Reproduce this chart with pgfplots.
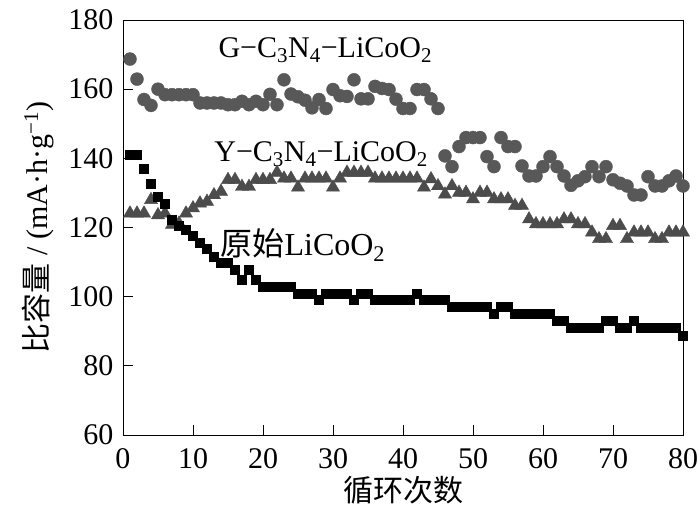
\documentclass[border=0pt]{standalone}
\usepackage{pgfplots}
\pgfplotsset{compat=1.18}
\usepackage{fontspec}
\setmainfont{Liberation Serif}
\newfontfamily\cjk{Noto Sans CJK SC}
\definecolor{gcol}{RGB}{88,88,88}
\definecolor{ycol}{RGB}{76,76,76}
\begin{document}
\begin{tikzpicture}
\begin{axis}[
  at={(0,0)}, anchor=south west,
  scale only axis, width=560pt, height=415pt,
  xmin=0, xmax=80, ymin=60, ymax=180,
  xtick={0,10,...,80}, ytick={60,80,...,180},
  tick pos=left, tick align=inside, major tick length=10pt,
  axis line style={line width=0.9pt},
  major tick style={line width=0.9pt, black},
  font=\fontsize{30}{35}\selectfont,
  tick label style={font=\fontsize{30}{35}\selectfont},
  xticklabel shift=10pt,
  yticklabel shift=6pt,
  /pgf/number format/assume math mode=true,
  xlabel={\cjk 循环次数},
  ylabel={{\cjk 比容量} / (mA·h·g\textsuperscript{−1})},
  label style={font=\fontsize{30}{35}\selectfont},
  xlabel style={yshift=-1pt},
  ylabel style={yshift=8pt},
]
\addplot[only marks, mark=*, mark size=6.5pt, gcol, mark options={fill=gcol, draw=gcol}] coordinates {
(1,168.7)(2,162.9)(3,157)(4,155.3)(5,160)(6,158.4)(7,158.4)(8,158.4)(9,158.4)(10,158.4)
(11,156)(12,156)(13,156)(14,156)(15,155.5)(16,155.5)(17,156.5)(18,155.5)(19,156.5)(20,155.5)
(21,158.5)(22,155.5)(23,162.7)(24,158.6)(25,157.8)(26,156.8)(27,154.6)(28,157)(29,154.4)(30,159.9)
(31,158.1)(32,157.9)(33,162.7)(34,157.2)(35,157.2)(36,160.8)(37,160.2)(38,159.9)(39,157.1)(40,154.4)
(41,154.4)(42,159.9)(43,159.9)(44,157.2)(45,154.4)(46,140.7)(47,137.6)(48,143.4)(49,146)(50,146)
(51,146)(52,140.5)(53,137.6)(54,146)(55,143.4)(56,143.4)(57,137.8)(58,134.9)(59,134.9)(60,137.6)
(61,140.5)(62,137.6)(63,134.9)(64,132.2)(65,133.5)(66,134.7)(67,137.6)(68,134.7)(69,137.6)(70,133.8)
(71,132.8)(72,132)(73,129.4)(74,129.4)(75,134.7)(76,132)(77,132)(78,133.5)(79,134.9)(80,132)
};
\addplot[only marks, mark=triangle*, mark size=7.6pt, ycol, mark options={fill=ycol, draw=ycol}] coordinates {
(1,124.1)(2,124.1)(3,124.1)(4,128)(5,123.6)(6,124.1)(7,120.8)(8,121.2)(9,124.1)(10,125.6)
(11,127)(12,127.5)(13,129.4)(14,130.4)(15,133.8)(16,133.8)(17,131.8)(18,131.8)(19,133.8)(20,133.8)
(21,133.8)(22,135.9)(23,134.2)(24,134.2)(25,131.6)(26,134.2)(27,134.2)(28,134.2)(29,134.2)(30,131.6)
(31,134.2)(32,135.9)(33,135.9)(34,135.9)(35,135.9)(36,134.2)(37,134.2)(38,134.2)(39,134.2)(40,134.2)
(41,134.2)(42,134.2)(43,131.6)(44,134)(45,132)(46,129.6)(47,132)(48,130.1)(49,130.1)(50,128.2)
(51,130.1)(52,130.1)(53,128.2)(54,128.2)(55,128.2)(56,126.3)(57,126.3)(58,122.4)(59,121)(60,121)
(61,121)(62,121)(63,122.4)(64,122.4)(65,121)(66,121)(67,118.6)(68,116.7)(69,116.7)(70,120.5)
(71,120.5)(72,116.7)(73,118.6)(74,118.6)(75,118.6)(76,116.7)(77,116.7)(78,118.6)(79,118.6)(80,118.6)
};
\addplot[only marks, mark=square*, mark size=4.5pt, black, mark options={fill=black, draw=black}] coordinates {
(1,141)(2,141)(3,137)(4,132.8)(5,128.9)(6,126.8)(7,122.2)(8,120.5)(9,119.5)(10,117.5)
(11,115.5)(12,113.8)(13,111.6)(14,109.7)(15,109.7)(16,107.7)(17,104.8)(18,107.7)(19,104.8)(20,103)
(21,103)(22,103)(23,103)(24,103)(25,101)(26,101)(27,101)(28,99)(29,101)(30,101)
(31,101)(32,101)(33,99)(34,101)(35,101)(36,99)(37,99)(38,99)(39,99)(40,99)
(41,99)(42,101)(43,99)(44,99)(45,99)(46,99)(47,97)(48,97)(49,97)(50,97)
(51,97)(52,97)(53,95)(54,97)(55,97)(56,95)(57,95)(58,95)(59,95)(60,95)
(61,95)(62,93)(63,93)(64,91)(65,91)(66,91)(67,91)(68,91)(69,93)(70,93)
(71,91)(72,91)(73,93)(74,91)(75,91)(76,91)(77,91)(78,91)(79,91)(80,88.7)
};
\node[font=\fontsize{30}{35}\selectfont] at (axis cs:28.9,171.3) {G−C\textsubscript{3}N\textsubscript{4}−LiCoO\textsubscript{2}};
\node[font=\fontsize{30}{35}\selectfont] at (axis cs:28.3,141.2) {Y−C\textsubscript{3}N\textsubscript{4}−LiCoO\textsubscript{2}};
\node[font=\fontsize{32}{37}\selectfont] at (axis cs:25.7,115) {{\cjk 原始}LiCoO\textsubscript{2}};
\end{axis}
\pgfresetboundingbox
\useasboundingbox (-123pt,-73pt) rectangle (577pt,435pt);
\end{tikzpicture}
\end{document}
